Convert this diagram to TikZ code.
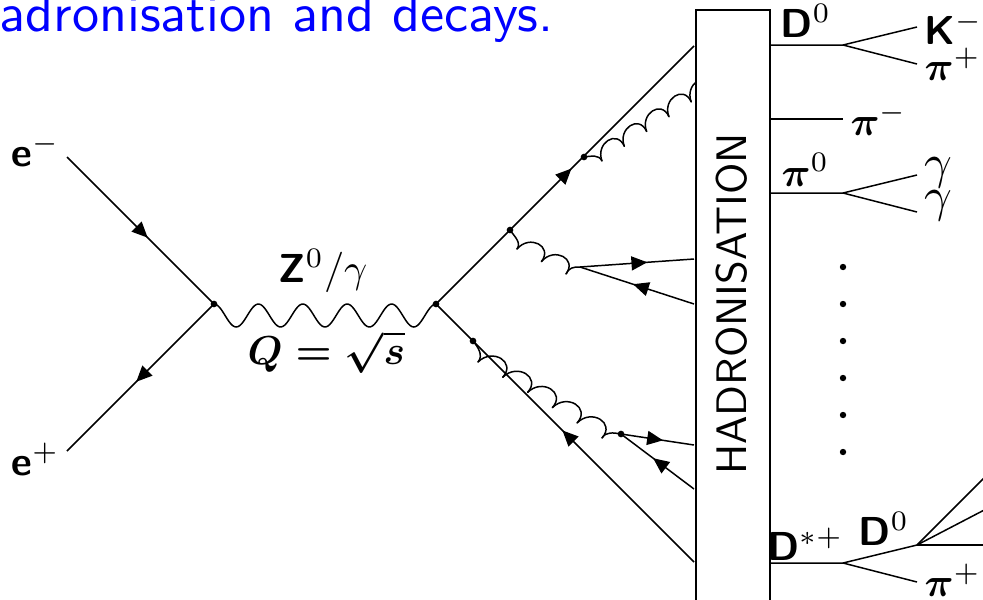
\documentclass[tikz,border=0pt]{standalone}
\usepackage{amsmath}
\usetikzlibrary{arrows.meta,decorations.markings}
\tikzset{
  fermion/.style={postaction={decorate,decoration={markings,
    mark=at position #1 with {\arrow{Triangle[length=9pt,width=8pt]}}}}},
  fermion/.default=0.5,
  gluon/.style={looseness=1.8,line cap=round},
  vertexdot/.style={circle,fill=black,inner sep=0pt,minimum size=3.8pt},
  plabel/.style={scale=2.3,inner sep=0pt,anchor=base west,font=\sffamily\bfseries},
}
\begin{document}
\begin{tikzpicture}[x=0.02cm,y=-0.02cm,line width=0.85pt]
  \useasboundingbox (0,0) rectangle (983,599);
  \clip (0,0) rectangle (983,599);
  \node[scale=3.08,inner sep=0pt,anchor=base east,text=blue,font=\sffamily] (title) at (556,31) {adronisation and decays.};
  % Vertices
  \coordinate (eminus) at (67,157);
  \coordinate (eplus) at (67,451);
  \coordinate (vleft) at (214,304);
  \coordinate (vright) at (436,304);
  \coordinate (qtop) at (694,46);
  \coordinate (qbot) at (694,562);
  \coordinate (gone) at (510,230);
  \coordinate (gtwo) at (584,157);
  \coordinate (gthree) at (473,341);
  \coordinate (splittop) at (580,267);
  \coordinate (splitbot) at (621,434);
  % Incoming pair
  \draw[fermion=0.55] (eminus) -- (vleft);
  \draw[fermion=0.53] (vleft) -- (eplus);
  \draw plot[domain=0:5,samples=120] ({214+44.4*\x},{315.5-11.5*cos(360*\x)});
  % Outgoing quarks
  \draw[fermion=0.525] (vright) -- (qtop);
  \draw[fermion=0.51] (qbot) -- (vright);
  % Gluons
  \draw (gtwo) to[out=8,in=114] (602,161);
  \foreach \i in {0,...,4}
    \draw[gluon] ({602+22.3*\i},{161-14.8*\i}) to[out=111,in=114] ++(22.3,-14.8);
  \draw (gone) to[out=-55,in=55] (517,249);
  \foreach \i in {0,1}
    \draw[gluon] ({517+24.5*\i},{249+12.5*\i}) to[out=50,in=53] ++(24.5,12.5);
  \draw (566,274) to[out=70,in=175] (splittop);
  \draw (gthree) to[out=-50,in=50] (478,362);
  \foreach \i in {0,...,4}
    \draw[gluon] ({478+24.8*\i},{362+15.2*\i}) to[out=45,in=48] ++(24.8,15.2);
  \draw (602,438) to[out=60,in=170] (splitbot);
  % Quark pairs
  \coordinate (pone) at (694,259);
  \coordinate (ptwo) at (694,304);
  \coordinate (pthree) at (694,445);
  \coordinate (pfour) at (694,489);
  \draw[fermion=0.59] (splittop) -- (pone);
  \draw[fermion=0.535] (ptwo) -- (splittop);
  \draw[fermion=0.575] (splitbot) -- (pthree);
  \draw[fermion=0.56] (pfour) -- (splitbot);
  \foreach \v in {vleft,vright,gone,gtwo,gthree,splitbot}
    \node[vertexdot] at (\v) {};
  % Hadronisation block
  \node[draw,fill=white,line width=1pt,minimum width=1.48cm,minimum height=12.2cm,inner sep=0pt,anchor=north west] (block) at (695,9) {};
  \node[scale=2.43,rotate=90,inner sep=0pt,font=\sffamily] (blocklabel) at (731.5,304) {HADRONISATION};
  % Decays
  \coordinate (dzero) at (843,45);
  \coordinate (kaon) at (917,27);
  \coordinate (piplus) at (917,64);
  \draw (769,45) -- (dzero) -- (kaon);
  \draw (dzero) -- (piplus);
  \coordinate (piend) at (843,119);
  \draw (769,119) -- (piend);
  \coordinate (pizero) at (843,193);
  \coordinate (gamone) at (917,175);
  \coordinate (gamtwo) at (917,212);
  \draw (769,193) -- (pizero) -- (gamone);
  \draw (pizero) -- (gamtwo);
  \foreach \y in {267,304,...,452}
    \fill (843,\y) circle (3.2);
  \coordinate (dstar) at (843,563);
  \coordinate (dsub) at (917,545);
  \coordinate (pilast) at (917,582);
  \draw (769,563) -- (dstar) -- (dsub);
  \draw (dstar) -- (pilast);
  \draw (dsub) -- (990,472);
  \draw (dsub) -- (990,507);
  \draw (dsub) -- (990,545);
  % Labels
  \node[plabel] (lemin) at (10,166) {e$^-$};
  \node[plabel] (leplus) at (10,475) {e$^+$};
  \node[plabel] (lboson) at (277,282) {Z$^0/\gamma$};
  \node[plabel] (lq) at (246,364) {$\boldsymbol{Q=\sqrt{s}}$};
  \node[plabel] (ldzero) at (779,37) {D$^0$};
  \node[plabel] (lkaon) at (923,44) {K$^-$};
  \node[plabel] (lpiplus) at (923,80) {$\boldsymbol{\pi}^+$};
  \node[plabel] (lpiminus) at (849,135) {$\boldsymbol{\pi}^-$};
  \node[plabel] (lpizero) at (780,186) {$\boldsymbol{\pi}^0$};
  \node[plabel,scale=1.2] (lgamone) at (922,178) {$\gamma$};
  \node[plabel,scale=1.2] (lgamtwo) at (922,211) {$\gamma$};
  \node[plabel] (ldstar) at (766,560) {D$^{*+}$};
  \node[plabel] (ldsub) at (857,545) {D$^0$};
  \node[plabel] (lpilast) at (923,596) {$\boldsymbol{\pi}^+$};
\end{tikzpicture}
\end{document}
